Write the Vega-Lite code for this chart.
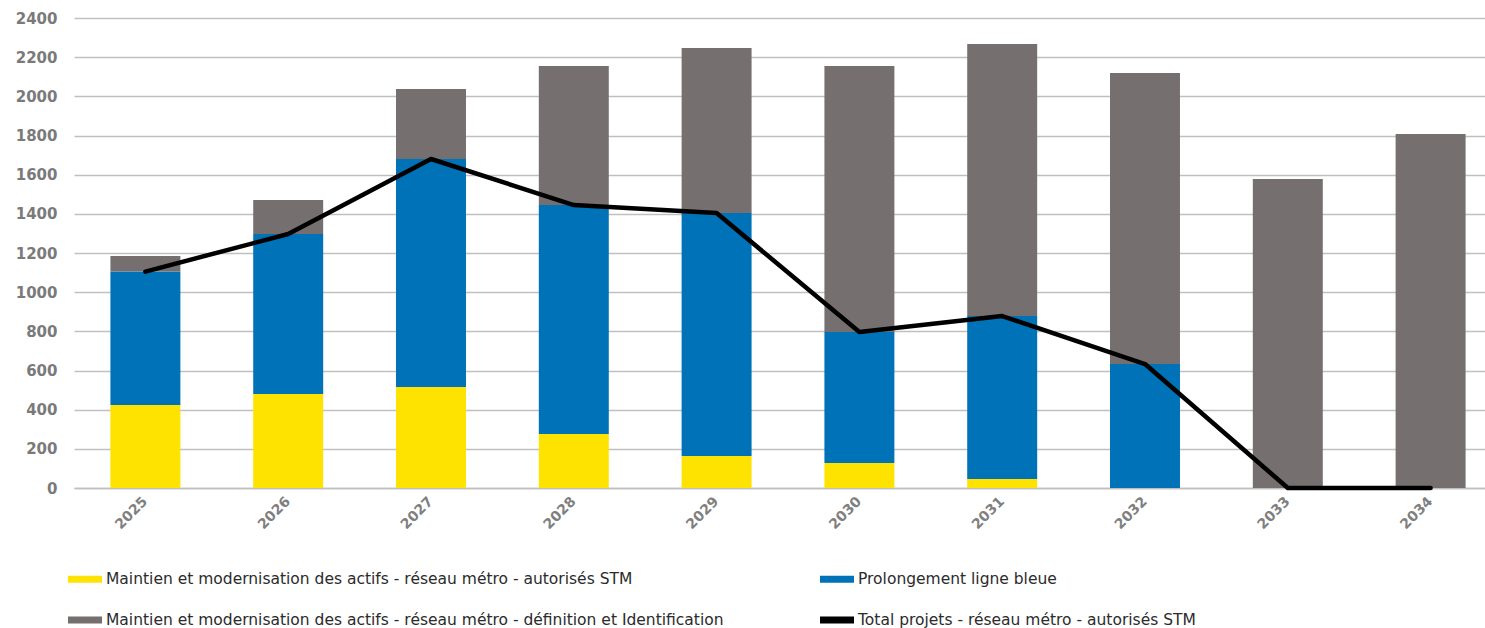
{
  "$schema": "https://vega.github.io/schema/vega-lite/v6.json",
  "autosize": {"type": "none"},
  "padding": {"left": 74, "top": 18, "right": 0, "bottom": 140},
  "width": 1411,
  "height": 470,
  "background": "white",
  "config": {
    "view": {"stroke": null},
    "font": "DejaVu Sans"
  },
  "datasets": {
    "barres": [
      {"annee": "2025", "serie": "Maintien et modernisation des actifs - réseau métro - autorisés STM", "rang": 1, "valeur": 424},
      {"annee": "2025", "serie": "Prolongement ligne bleue", "rang": 2, "valeur": 681},
      {"annee": "2025", "serie": "Maintien et modernisation des actifs - réseau métro - définition et Identification", "rang": 3, "valeur": 80},
      {"annee": "2026", "serie": "Maintien et modernisation des actifs - réseau métro - autorisés STM", "rang": 1, "valeur": 480},
      {"annee": "2026", "serie": "Prolongement ligne bleue", "rang": 2, "valeur": 817},
      {"annee": "2026", "serie": "Maintien et modernisation des actifs - réseau métro - définition et Identification", "rang": 3, "valeur": 174},
      {"annee": "2027", "serie": "Maintien et modernisation des actifs - réseau métro - autorisés STM", "rang": 1, "valeur": 516},
      {"annee": "2027", "serie": "Prolongement ligne bleue", "rang": 2, "valeur": 1164},
      {"annee": "2027", "serie": "Maintien et modernisation des actifs - réseau métro - définition et Identification", "rang": 3, "valeur": 357},
      {"annee": "2028", "serie": "Maintien et modernisation des actifs - réseau métro - autorisés STM", "rang": 1, "valeur": 276},
      {"annee": "2028", "serie": "Prolongement ligne bleue", "rang": 2, "valeur": 1169},
      {"annee": "2028", "serie": "Maintien et modernisation des actifs - réseau métro - définition et Identification", "rang": 3, "valeur": 710},
      {"annee": "2029", "serie": "Maintien et modernisation des actifs - réseau métro - autorisés STM", "rang": 1, "valeur": 163},
      {"annee": "2029", "serie": "Prolongement ligne bleue", "rang": 2, "valeur": 1241},
      {"annee": "2029", "serie": "Maintien et modernisation des actifs - réseau métro - définition et Identification", "rang": 3, "valeur": 843},
      {"annee": "2030", "serie": "Maintien et modernisation des actifs - réseau métro - autorisés STM", "rang": 1, "valeur": 128},
      {"annee": "2030", "serie": "Prolongement ligne bleue", "rang": 2, "valeur": 669},
      {"annee": "2030", "serie": "Maintien et modernisation des actifs - réseau métro - définition et Identification", "rang": 3, "valeur": 1358},
      {"annee": "2031", "serie": "Maintien et modernisation des actifs - réseau métro - autorisés STM", "rang": 1, "valeur": 46},
      {"annee": "2031", "serie": "Prolongement ligne bleue", "rang": 2, "valeur": 832},
      {"annee": "2031", "serie": "Maintien et modernisation des actifs - réseau métro - définition et Identification", "rang": 3, "valeur": 1389},
      {"annee": "2032", "serie": "Maintien et modernisation des actifs - réseau métro - autorisés STM", "rang": 1, "valeur": 0},
      {"annee": "2032", "serie": "Prolongement ligne bleue", "rang": 2, "valeur": 633},
      {"annee": "2032", "serie": "Maintien et modernisation des actifs - réseau métro - définition et Identification", "rang": 3, "valeur": 1486},
      {"annee": "2033", "serie": "Maintien et modernisation des actifs - réseau métro - autorisés STM", "rang": 1, "valeur": 0},
      {"annee": "2033", "serie": "Prolongement ligne bleue", "rang": 2, "valeur": 0},
      {"annee": "2033", "serie": "Maintien et modernisation des actifs - réseau métro - définition et Identification", "rang": 3, "valeur": 1578},
      {"annee": "2034", "serie": "Maintien et modernisation des actifs - réseau métro - autorisés STM", "rang": 1, "valeur": 0},
      {"annee": "2034", "serie": "Prolongement ligne bleue", "rang": 2, "valeur": 0},
      {"annee": "2034", "serie": "Maintien et modernisation des actifs - réseau métro - définition et Identification", "rang": 3, "valeur": 1808}
    ],
    "total": [
      {"annee": "2025", "serie": "Total projets - réseau métro - autorisés STM", "valeur": 1105},
      {"annee": "2026", "serie": "Total projets - réseau métro - autorisés STM", "valeur": 1297},
      {"annee": "2027", "serie": "Total projets - réseau métro - autorisés STM", "valeur": 1680},
      {"annee": "2028", "serie": "Total projets - réseau métro - autorisés STM", "valeur": 1445},
      {"annee": "2029", "serie": "Total projets - réseau métro - autorisés STM", "valeur": 1404},
      {"annee": "2030", "serie": "Total projets - réseau métro - autorisés STM", "valeur": 797},
      {"annee": "2031", "serie": "Total projets - réseau métro - autorisés STM", "valeur": 878},
      {"annee": "2032", "serie": "Total projets - réseau métro - autorisés STM", "valeur": 633},
      {"annee": "2033", "serie": "Total projets - réseau métro - autorisés STM", "valeur": 0},
      {"annee": "2034", "serie": "Total projets - réseau métro - autorisés STM", "valeur": 0}
    ]
  },
  "encoding": {
    "x": {
      "field": "annee",
      "type": "nominal",
      "sort": null,
      "scale": {"range": [0, 1428], "paddingInner": 0.51, "paddingOuter": 0.255},
      "axis": {
        "title": null,
        "labelAngle": -45,
        "labelAlign": "right",
        "labelBaseline": "middle",
        "labelFont": "DejaVu Sans",
        "labelFontWeight": "bold",
        "labelFontSize": 14,
        "labelColor": "#7f7f7f",
        "labelPadding": 11,
        "ticks": false,
        "domain": true,
        "domainColor": "#c0c0c0",
        "domainWidth": 1.5,
        "grid": false
      }
    },
    "y": {
      "field": "valeur",
      "type": "quantitative",
      "scale": {"domain": [0, 2400], "nice": false},
      "axis": {
        "title": null,
        "format": "d",
        "values": [0, 200, 400, 600, 800, 1000, 1200, 1400, 1600, 1800, 2000, 2200, 2400],
        "labelFont": "DejaVu Sans",
        "labelFontWeight": "bold",
        "labelFontSize": 15,
        "labelColor": "#7a7a7a",
        "labelPadding": 17,
        "ticks": false,
        "domain": false,
        "grid": true,
        "gridColor": "#c0c0c0",
        "gridWidth": 1.5
      }
    }
  },
  "layer": [
    {
      "data": {"name": "barres"},
      "mark": {"type": "bar"},
      "encoding": {
        "y": {"field": "valeur", "type": "quantitative", "stack": "zero"},
        "order": {"field": "rang", "type": "quantitative", "sort": "ascending"},
        "color": {
          "field": "serie",
          "type": "nominal",
          "scale": {
            "domain": [
              "Maintien et modernisation des actifs - réseau métro - autorisés STM",
              "Prolongement ligne bleue",
              "Maintien et modernisation des actifs - réseau métro - définition et Identification",
              "Total projets - réseau métro - autorisés STM"
            ],
            "range": ["#FFE300", "#0072B8", "#75706F", "#000000"]
          },
          "legend": {
            "title": null,
            "orient": "none",
            "legendX": -6,
            "legendY": 544,
            "direction": "horizontal",
            "columns": 2,
            "columnPadding": 96,
            "rowPadding": 15,
            "symbolType": "M-1,-0.2H1V0.2H-1Z",
            "symbolSize": 1156,
            "symbolStrokeWidth": 0,
            "labelOffset": 4,
            "labelFont": "DejaVu Sans",
            "labelFontSize": 15.5,
            "labelColor": "#2b2b2b",
            "labelLimit": 1000,
            "encode": {
              "symbols": {
                "update": {
                  "fill": {"scale": "color", "field": "value"},
                  "stroke": {"scale": "color", "field": "value"},
                  "opacity": {"value": 1}
                }
              }
            }
          }
        }
      }
    },
    {
      "data": {"name": "total"},
      "mark": {"type": "line", "strokeWidth": 4.5, "strokeCap": "round", "strokeJoin": "round"},
      "encoding": {
        "color": {
          "field": "serie",
          "type": "nominal"
        }
      }
    }
  ]
}
